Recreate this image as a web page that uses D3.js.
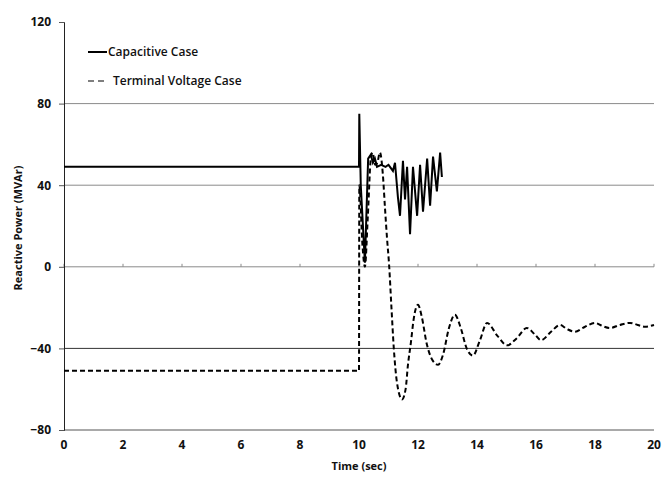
<!DOCTYPE html>
<html>
<head>
<meta charset="utf-8">
<script src="https://cdn.jsdelivr.net/npm/d3@7"></script>
<style>
  body { margin: 0; background: #fff; }
  text { font-family: "Open Sans", "Liberation Sans", sans-serif; font-weight: bold; fill: #111; }
</style>
</head>
<body>
<script>
// tick values
let yTicks = [-80, -40, 0, 40, 80, 120];
let xTicks = [0, 2, 4, 6, 8, 10, 12, 14, 16, 18, 20];

// Capacitive Case (solid)
let capT = [0, 10, 10.01, 10.06, 10.2, 10.31, 10.4, 10.47, 10.54, 10.61, 10.75, 10.9, 11.0, 11.15, 11.22, 11.32, 11.39,
            11.49, 11.56, 11.63, 11.73, 11.83, 11.97, 12.07, 12.17, 12.31, 12.41, 12.51, 12.64, 12.75, 12.81];
let capQ = [49, 49, 75, 40, 2, 53, 55, 51, 53, 49, 50, 49, 50, 47, 51, 34, 25,
            52, 33, 49, 16, 49, 25, 50, 27, 53, 30, 54, 37, 56, 44];

// Terminal Voltage Case (dashed)
let termT = [0, 10, 10.01, 10.12, 10.2, 10.3, 10.4, 10.46, 10.55, 10.62, 10.71, 10.81, 10.88, 10.95, 11.02, 11.1, 11.18,
             11.29, 11.46, 11.58, 11.66, 11.76, 11.86, 12.0, 12.12, 12.3, 12.5, 12.68, 12.85, 13.05, 13.25, 13.45,
             13.65, 13.86, 14.1, 14.34, 14.7, 15.02, 15.35, 15.69, 15.95, 16.17, 16.5, 16.81, 17.05, 17.32, 17.65,
             18.0, 18.25, 18.5, 18.85, 19.19, 19.45, 19.69, 20];
let termQ = [-51, -51, 40, 10, 0, 25, 53, 56, 50, 51, 56, 45, 29, 14, 1, -20, -40,
             -57, -65, -60, -48, -37, -25, -18.6, -24, -38, -46, -48, -43, -30, -23.5, -30,
             -40, -43.5, -36, -27.5, -34, -38.5, -35, -30, -33, -36, -32, -28.5, -30.5, -31.8, -29.5,
             -27.5, -29, -30, -28.5, -27.5, -28.5, -29.4, -28.5];

const W = 663, H = 477;
const plotLeft = 64, plotRight = 654, plotTop = 22, plotBottom = 430;

let svg = d3.select("body").append("svg")
    .attr("width", W)
    .attr("height", H);

let x = d3.scaleLinear().domain([0, 20]).range([plotLeft, plotRight]);
let y = d3.scaleLinear().domain([-80, 120]).range([plotBottom, plotTop]);

// gridlines
svg.selectAll(".grid")
    .data(yTicks.filter(d => d > -80 && d < 120))
    .enter().append("line")
    .attr("x1", plotLeft).attr("x2", plotRight)
    .attr("y1", d => y(d)).attr("y2", d => y(d))
    .style("stroke", d => d == -40 ? "#333" : "#8a8a8a")
    .style("stroke-width", 1);

// bottom line
svg.append("line")
    .attr("x1", plotLeft).attr("x2", plotRight)
    .attr("y1", plotBottom).attr("y2", plotBottom)
    .style("stroke", "#555");

// small ticks on the zero line
svg.selectAll(".xtick")
    .data(xTicks)
    .enter().append("line")
    .attr("x1", d => x(d)).attr("x2", d => x(d))
    .attr("y1", y(0)).attr("y2", y(0) - 3)
    .style("stroke", "#8a8a8a");

// y axis
let yAxis = d3.axisLeft(y).tickValues(yTicks).tickSize(5).tickPadding(8);
let gy = svg.append("g").attr("transform", "translate(" + plotLeft + ",0)").call(yAxis);
gy.select(".domain").style("stroke", "#222");
gy.selectAll(".tick line").style("stroke", "#555");
gy.selectAll(".tick text").style("font-size", "12px");

// x labels
svg.selectAll(".xlab")
    .data(xTicks)
    .enter().append("text")
    .text(d => d)
    .attr("x", d => x(d))
    .attr("y", 449)
    .attr("text-anchor", "middle")
    .style("font-size", "12px");

// axis titles
svg.append("text")
    .text("Time (sec)")
    .attr("x", 359).attr("y", 470)
    .attr("text-anchor", "middle")
    .style("font-size", "11px");

svg.append("text")
    .text("Reactive Power (MVAr)")
    .attr("transform", "translate(22," + 228 + ") rotate(-90)")
    .attr("text-anchor", "middle")
    .style("font-size", "11px");

// lines
let capData = capT.map((t, i) => [t, capQ[i]]);
let termData = termT.map((t, i) => [t, termQ[i]]);

svg.append("path")
    .datum(termData)
    .attr("d", d3.line().x(d => x(d[0])).y(d => y(d[1])).curve(d3.curveMonotoneX))
    .style("fill", "none")
    .style("stroke", "#000")
    .style("stroke-width", 2)
    .style("stroke-dasharray", "5,3");

svg.append("path")
    .datum(capData)
    .attr("d", d3.line().x(d => x(d[0])).y(d => y(d[1])))
    .style("fill", "none")
    .style("stroke", "#000")
    .style("stroke-width", 2);

// legend
let legend = [
    { name: "Capacitive Case", dash: null, y: 52, x1: 88, x2: 107, tx: 108 },
    { name: "Terminal Voltage Case", dash: "6,4", y: 81, x1: 88, x2: 104, tx: 113 }
];
let lg = svg.selectAll(".legend").data(legend).enter().append("g");
lg.append("line")
    .attr("x1", d => d.x1).attr("x2", d => d.x2)
    .attr("y1", d => d.y).attr("y2", d => d.y)
    .style("stroke", "#000")
    .style("stroke-width", d => d.dash ? 1.2 : 2)
    .style("stroke-dasharray", d => d.dash);
lg.append("text")
    .text(d => d.name)
    .attr("x", d => d.tx).attr("y", d => d.y + 4)
    .style("font-size", "12px")
    .style("font-weight", "600");
</script>
</body>
</html>
